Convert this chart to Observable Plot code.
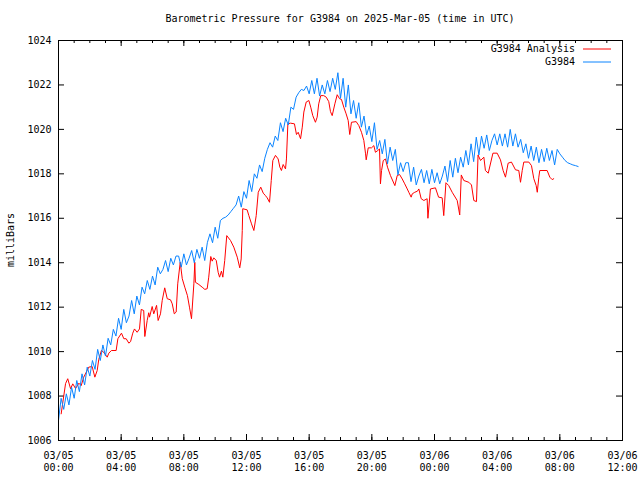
<!DOCTYPE html>
<html><head><meta charset="utf-8">
<script src="https://cdn.jsdelivr.net/npm/d3@7"></script>
<script src="https://cdn.jsdelivr.net/npm/@observablehq/plot@0.6"></script>
<style>body{margin:0;background:#fff}svg{display:block}</style>
</head><body><div id="chart"></div>
<script>
const title = "Barometric Pressure for G3984 on 2025-Mar-05 (time in UTC)";
const yLabel = "milliBars";
const seriesNames = ["G3984 Analysis", "G3984"];
const seriesColors = ["#ff0000", "#0a84ff"];

const xTickHours = [0, 4, 8, 12, 16, 20, 24, 28, 32, 36];
const xTickLabels = ["03/05\n00:00", "03/05\n04:00", "03/05\n08:00", "03/05\n12:00", "03/05\n16:00",
  "03/05\n20:00", "03/06\n00:00", "03/06\n04:00", "03/06\n08:00", "03/06\n12:00"];
const xMinorHours = [0,1,2,3,4,5,6,7,8,9,10,11,12,13,14,15,16,17,18,19,20,21,22,23,24,25,26,27,28,29,30,31,32,33,34,35,36];
const yTicks = [1006, 1008, 1010, 1012, 1014, 1016, 1018, 1020, 1022, 1024];

// Analysis series: hours since 03/05 00:00 UTC, and pressure (mb)
const analysisHours = [0.17,0.45,0.59,0.77,0.91,1.09,1.30,1.45,1.61,1.83,1.93,2.15,2.32,2.47,2.57,2.74,2.89,3.11,3.21,3.38,3.68,3.79,4.02,4.17,4.32,4.49,4.60,4.74,4.85,5.02,5.17,5.28,5.44,5.51,5.66,5.76,5.81,5.98,6.08,6.26,6.36,6.51,6.62,6.78,6.94,7.15,7.26,7.39,7.51,7.61,7.77,7.90,8.06,8.23,8.36,8.49,8.64,8.70,8.74,8.96,9.17,9.34,9.49,9.59,9.72,9.81,9.91,10.07,10.19,10.28,10.40,10.49,10.61,10.74,10.98,11.19,11.41,11.57,11.66,11.73,11.76,12.04,12.15,12.32,12.47,12.62,12.75,12.91,13.07,13.21,13.32,13.47,13.58,13.68,13.85,14.02,14.13,14.23,14.34,14.49,14.55,14.64,14.81,15.06,15.19,15.30,15.45,15.56,15.66,15.81,15.98,16.10,16.23,16.40,16.51,16.61,16.74,16.93,17.09,17.25,17.36,17.47,17.64,17.79,17.94,18.06,18.21,18.36,18.49,18.59,18.70,19.00,19.17,19.34,19.49,19.60,19.64,19.77,19.98,20.13,20.23,20.38,20.49,20.55,20.62,20.73,20.87,21.00,21.19,21.47,21.62,21.77,21.94,22.10,22.26,22.36,22.51,22.58,22.74,22.91,23.00,23.15,23.32,23.53,23.58,23.74,24.06,24.26,24.49,24.59,24.73,24.91,25.13,25.45,25.61,25.71,25.87,26.19,26.36,26.51,26.68,26.78,26.94,27.15,27.25,27.43,27.73,28.00,28.21,28.38,28.53,28.70,28.91,29.17,29.38,29.49,29.60,29.70,30.02,30.19,30.34,30.49,30.56,30.66,30.72,31.19,31.36,31.51,31.61];
const analysisValues = [1007.2,1008.56,1008.78,1008.33,1008.55,1008.34,1008.58,1008.47,1008.85,1009.15,1009.3,1009.33,1008.85,1009.15,1009.65,1010.05,1009.97,1009.75,1009.93,1010.05,1010.05,1010.58,1010.83,1010.58,1010.58,1010.38,1010.45,1010.83,1011.02,1010.87,1011.02,1011.9,1011.85,1010.68,1011.4,1011.75,1011.55,1012.03,1011.7,1012.08,1011.4,1011.7,1012.3,1012.87,1012.38,1012.33,1012.15,1011.7,1011.78,1013.05,1014.02,1013.28,1012.9,1012.52,1012.0,1011.48,1013.05,1014.02,1013.12,1013.02,1012.9,1012.8,1012.83,1013.35,1014.28,1014.07,1014.22,1014.1,1013.57,1013.35,1013.62,1013.35,1014.1,1015.22,1015.0,1014.7,1014.25,1013.77,1014.17,1015.45,1016.43,1016.38,1016.12,1015.75,1015.45,1016.12,1017.17,1017.4,1017.13,1017.02,1016.92,1016.72,1017.7,1018.6,1018.83,1018.67,1018.3,1018.15,1018.42,1018.22,1018.67,1020.25,1020.28,1020.25,1019.77,1019.87,1019.58,1020.1,1020.78,1021.23,1021.3,1021.0,1020.62,1020.32,1020.55,1021.15,1021.52,1021.52,1021.45,1021.25,1020.8,1020.62,1021.15,1021.56,1021.38,1021.35,1021.0,1020.7,1020.4,1019.77,1020.32,1020.35,1020.17,1019.87,1019.5,1018.9,1018.63,1019.17,1019.17,1019.27,1018.97,1019.05,1019.12,1017.55,1018.15,1018.6,1018.67,1018.3,1017.92,1017.47,1017.92,1017.97,1017.77,1017.55,1017.32,1017.17,1016.95,1017.1,1017.17,1017.22,1017.32,1016.88,1016.8,1016.88,1016.0,1017.32,1017.37,1016.95,1016.92,1016.12,1017.6,1017.47,1017.17,1016.8,1016.15,1017.95,1017.7,1017.62,1017.5,1016.8,1016.75,1018.85,1018.6,1018.75,1018.15,1018.03,1018.93,1018.93,1018.63,1018.15,1017.85,1018.48,1018.53,1018.18,1018.15,1017.62,1018.15,1018.53,1018.53,1018.37,1017.78,1017.47,1017.17,1017.85,1018.15,1018.15,1017.85,1017.74,1017.78];

// Station observations: one reading every 10 minutes from 03/05 00:00 UTC
const obsStepMinutes = 10;
const obsValues = [
  1006.9,1007.9,1007.4,1008.1,1007.6,1008.4,
  1007.9,1008.7,1008.2,1009.0,1008.5,1009.3,
  1008.9,1009.6,1009.2,1010.1,1009.6,1010.3,
  1009.8,1010.6,1010.3,1011.0,1010.7,1011.5,
  1011.0,1011.9,1011.3,1011.6,1012.3,1011.7,
  1012.5,1012.1,1012.9,1012.6,1013.2,1012.8,
  1013.4,1013.0,1013.8,1013.5,1013.7,1014.1,
  1013.6,1014.2,1013.9,1014.3,1014.3,1013.8,
  1014.4,1013.9,1014.2,1014.55,1014.0,1014.6,
  1014.2,1014.7,1014.1,1014.9,1015.3,1014.9,
  1015.6,1015.1,1015.9,1016.0,1016.05,1016.15,
  1016.3,1016.45,1016.6,1017.0,1016.5,1017.2,
  1016.9,1017.7,1017.2,1018.0,1017.8,1018.4,
  1018.1,1018.7,1019.1,1019.4,1019.2,1019.7,
  1019.5,1020.3,1019.9,1020.5,1020.2,1021.0,
  1020.9,1021.45,1021.65,1021.8,1021.75,1021.95,
  1021.6,1022.2,1021.6,1022.3,1021.5,1022.0,
  1021.6,1022.2,1021.7,1022.3,1021.8,1022.55,
  1021.4,1022.3,1021.0,1022.0,1020.7,1021.3,
  1020.5,1021.2,1020.1,1020.6,1019.75,1020.15,
  1019.45,1020.3,1019.1,1019.5,1018.9,1019.55,
  1018.45,1019.2,1018.6,1019.1,1017.95,1018.5,
  1018.1,1018.5,1018.5,1017.65,1018.3,1017.5,
  1017.9,1018.2,1017.6,1018.15,1017.55,1018.2,
  1017.6,1018.05,1017.55,1017.9,1018.35,1017.65,
  1018.6,1017.85,1018.7,1018.05,1018.75,1018.3,
  1019.05,1018.4,1019.35,1018.55,1019.65,1018.85,
  1019.7,1019.15,1019.75,1019.05,1019.5,1019.8,
  1019.3,1019.8,1019.25,1019.8,1019.2,1020.0,
  1019.25,1019.8,1019.2,1019.55,1018.95,1019.35,
  1018.7,1019.25,1018.6,1019.2,1018.5,1019.1,
  1018.55,1019.15,1018.6,1019.05,1018.4,1019.1,
  1018.9,1018.75,1018.6,1018.5,1018.45,1018.4,
  1018.37,1018.33
];

const analysis = analysisHours.map((h, i) => ({h, v: analysisValues[i]}));
const obs = obsValues.map((v, i) => ({h: i * obsStepMinutes / 60, v}));

const W = 640, H = 480, mT = 40, mR = 18, mB = 40, mL = 58;
const innerW = W - mL - mR, innerH = H - mT - mB;
const font = "'DejaVu Sans Mono', 'Liberation Mono', monospace";

const plot = Plot.plot({
  width: W, height: H, marginTop: mT, marginRight: mR, marginBottom: mB, marginLeft: mL,
  style: {fontFamily: font, fontSize: "10px", background: "#fff", color: "#000", overflow: "visible"},
  x: {type: "linear", domain: [0, 36]},
  y: {type: "linear", domain: [1006, 1024]},
  marks: [
    Plot.tickX(xMinorHours, {x: d => d, insetTop: innerH - 3, stroke: "#000"}),
    Plot.tickX(xMinorHours, {x: d => d, insetBottom: innerH - 3, stroke: "#000"}),
    Plot.tickX(xTickHours, {x: d => d, insetTop: innerH - 6, stroke: "#000"}),
    Plot.tickX(xTickHours, {x: d => d, insetBottom: innerH - 6, stroke: "#000"}),
    Plot.tickY(yTicks, {y: d => d, insetRight: innerW - 6, stroke: "#000"}),
    Plot.tickY(yTicks, {y: d => d, insetLeft: innerW - 6, stroke: "#000"}),
    Plot.axisX({ticks: xTickHours, tickSize: 0, tickPadding: 10, lineHeight: 1.2,
      tickFormat: d => xTickLabels[xTickHours.indexOf(d)], label: null}),
    Plot.axisY({ticks: yTicks, tickSize: 0, tickPadding: 7, tickFormat: d => String(d), label: null}),
    Plot.line(analysis, {x: "h", y: "v", stroke: seriesColors[0], strokeWidth: 1}),
    Plot.line(obs, {x: "h", y: "v", stroke: seriesColors[1], strokeWidth: 1}),
    Plot.frame({stroke: "#000"})
  ]
});
document.getElementById("chart").appendChild(plot);

const svg = d3.select(plot);
svg.append("text").attr("x", mL + innerW / 2).attr("y", 19).attr("text-anchor", "middle")
  .attr("dominant-baseline", "middle").attr("font-family", font).attr("font-size", 10).text(title);
svg.append("text").attr("transform", `translate(11,${mT + innerH / 2}) rotate(-90)`)
  .attr("text-anchor", "middle").attr("dominant-baseline", "middle")
  .attr("font-family", font).attr("font-size", 10).text(yLabel);
seriesNames.forEach((name, i) => {
  const y = 49 + i * 13;
  svg.append("text").attr("x", 575).attr("y", y).attr("text-anchor", "end")
    .attr("dominant-baseline", "middle").attr("font-family", font).attr("font-size", 10).text(name);
  svg.append("line").attr("x1", 583).attr("x2", 611).attr("y1", y).attr("y2", y)
    .attr("stroke", seriesColors[i]).attr("stroke-width", 1);
});
</script></body></html>
